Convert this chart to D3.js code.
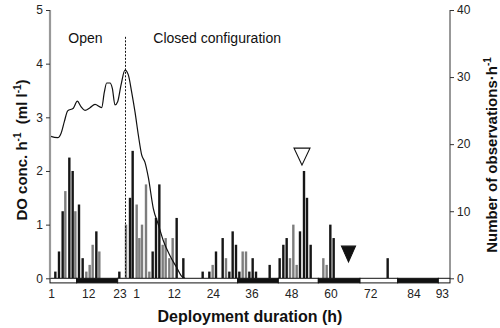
<!DOCTYPE html>
<html><head><meta charset="utf-8">
<script src="https://cdn.jsdelivr.net/npm/d3@7"></script>
<style>
html,body{margin:0;padding:0;background:#fff;}
svg{display:block;font-family:"Liberation Sans",Arial,Helvetica,sans-serif;}
</style>
</head><body>
<svg id="c" width="500" height="328"></svg>
<script>
// ---- data (x in elapsed deployment hours) ----
const lineHours = [0,2.3,3.3,4.3,5.3,7.0,8.2,9.3,10.5,12,13.5,15.5,16.3,17,18,18.7,19.5,20.3,21.3,22.5,23.5,24.5,25.5,26.5,27.5,28.5,29.5,31,32.5,34,36,38,39.6,40.5];
const doValues  = [2.65,2.62,2.70,2.92,3.12,3.17,3.30,3.20,3.13,3.18,3.24,3.18,3.47,3.64,3.64,3.54,3.23,3.29,3.60,3.88,3.79,3.47,3.10,2.67,2.30,2.16,1.88,1.30,1.0,0.70,0.42,0.20,0.03,0];

const blackHours  = [1.6,2.7,3.8,5.8,6.8,8.7,9.8,13.9,20.8,24,24.8,30.8,31.8,32.8,38,40,45.8,47.8,49.8,51.8,53.8,54.8,55.8,56.8,59.8,60.8,61.8,65.9,68.9,70,71,75,76.2,77.1,78.2,84.1,85.1,101.3];
const blackCounts = [1,4,10,18,16,11,3,7,1,12,19,4,9,14,9,3,1,1,4,6,1,7,5,1,1,3,1,2,3,5,6,7,16,12,5,8,6,3];
const grayHours   = [4.6,7.6,10.9,11.9,12.8,14.8,22.8,26,26.8,27.6,28.8,29.8,33.8,34.7,35.8,36.8,48.8,52.8,57.8,58.8,72,73,74,82,83];
const grayCounts  = [13,10,1,2,5,4,8,11,6,8,14,1,5,6,3,6,2,3,4,4,3,8,2,3,2];

const periodStarts = [0,8,20.3,56.3,68.5,80.5,93,104.3,116.5];
const periodEnds   = [8,20.3,56.3,68.5,80.5,93,104.3,116.5,120];
const periodDark   = [false,true,false,true,false,true,false,true,false];

const xTickHours  = [0.5,11.6,21,26,37.3,49,60.6,72.5,84.3,96.2,109.2,117.7];
const xTickLabels = ["1","12","23","1","12","24","36","48","60","72","84","93"];
const leftTicks  = [0,1,2,3,4,5];
const rightTicks = [0,10,20,30,40];

const switchHour = 22.65;
const markerHours  = [75.6,89.55];
const markerDO     = [2.32,0.50];
const markerFilled = [false,true];
const phaseLabels     = ["Open","Closed configuration"];
const phaseLabelHours = [5.5,31];

// ---- scales ----
const svg = d3.select("#c");
const x  = d3.scaleLinear().domain([0,120]).range([50,450]);
const yL = d3.scaleLinear().domain([0,5]).range([278.3,10]);
const yR = d3.scaleLinear().domain([0,40]).range([278.3,10]);
const bw = x(0.72)-x(0);

// bars
const bars = blackHours.map((h,i)=>({h,c:blackCounts[i],k:"#161616"}))
  .concat(grayHours.map((h,i)=>({h,c:grayCounts[i],k:"#7d7d7d"})));
svg.append("g").selectAll("rect").data(bars).join("rect")
  .attr("x",d=>x(d.h)-bw/2).attr("width",bw)
  .attr("y",d=>yR(d.c)).attr("height",d=>yR(0)-yR(d.c))
  .attr("fill",d=>d.k);

// DO line
const pts = lineHours.map((h,i)=>[h,doValues[i]]);
svg.append("path").datum(pts)
  .attr("d",d3.line().x(d=>x(d[0])).y(d=>yL(d[1])).curve(d3.curveMonotoneX))
  .attr("fill","none").attr("stroke","#111").attr("stroke-width",1.2);

// dashed switch line
svg.append("line").attr("x1",x(switchHour)).attr("x2",x(switchHour))
  .attr("y1",yL(4.5)).attr("y2",yL(0))
  .attr("stroke","#111").attr("stroke-width",1).attr("stroke-dasharray","2,1.5");

// phase labels
svg.append("g").selectAll("text").data(phaseLabels).join("text")
  .attr("x",(d,i)=>x(phaseLabelHours[i])).attr("y",yL(4.38))
  .attr("font-size",14).attr("fill","#111").text(d=>d);

// markers
svg.append("g").selectAll("path").data(markerHours).join("path")
  .attr("d",(d,i)=>d3.symbol(d3.symbolTriangle, markerFilled[i]?85:111)())
  .attr("transform",(d,i)=>`translate(${x(d)},${yL(markerDO[i])}) rotate(180) scale(1,${markerFilled[i]?1.3:1.22})`)
  .attr("fill",(d,i)=>markerFilled[i]?"#111":"#fff")
  .attr("stroke","#111").attr("stroke-width",1);

// day/night band
const band = periodStarts.map((s,i)=>({s,e:periodEnds[i],dark:periodDark[i]}));
svg.append("g").selectAll("rect").data(band).join("rect")
  .attr("x",d=>x(d.s)).attr("width",d=>x(d.e)-x(d.s))
  .attr("y",yL(0)).attr("height",4.6)
  .attr("fill",d=>d.dark?"#111":"#fff")
  .attr("stroke","#111").attr("stroke-width",1);

// axes
const gl = svg.append("g").attr("transform",`translate(${x(0)},0)`)
  .call(d3.axisLeft(yL).tickValues(leftTicks).tickSize(4).tickPadding(3).tickFormat(d3.format("d")));
gl.select(".domain").attr("stroke","#999").attr("stroke-width",2.2).attr("d",`M0,${yL(5)}V${yL(0)}`);
gl.selectAll(".tick line").attr("stroke","#333");
gl.selectAll(".tick text").attr("font-size",12).attr("font-family","inherit").attr("fill","#222");

const gr = svg.append("g").attr("transform",`translate(${x(120)},0)`)
  .call(d3.axisRight(yR).tickValues(rightTicks).tickSize(4).tickPadding(3).tickFormat(d3.format("d")));
gr.select(".domain").attr("stroke","#333").attr("stroke-width",1).attr("d",`M0,${yR(40)}V${yR(0)}`);
gr.selectAll(".tick line").attr("stroke","#333");
gr.selectAll(".tick text").attr("font-size",12).attr("font-family","inherit").attr("fill","#222");

// x tick labels
svg.append("g").selectAll("text").data(xTickHours).join("text")
  .attr("x",d=>x(d)).attr("y",yL(0)+20).attr("text-anchor","middle")
  .attr("font-size",12).attr("fill","#222").text((d,i)=>xTickLabels[i]);

// axis titles
svg.append("text").attr("x",250).attr("y",322).attr("text-anchor","middle")
  .attr("font-size",16).attr("font-weight","bold").attr("fill","#111")
  .text("Deployment duration (h)");

const lt = svg.append("text").attr("transform","translate(27,150) rotate(-90)")
  .attr("text-anchor","middle").attr("font-size",15).attr("font-weight","bold").attr("fill","#111");
lt.append("tspan").text("DO conc. h");
lt.append("tspan").attr("font-size",10).attr("dy",-6).text("-1");
lt.append("tspan").attr("dy",6).text("\u00a0\u00a0(ml l");
lt.append("tspan").attr("font-size",10).attr("dy",-6).text("-1");
lt.append("tspan").attr("dy",6).text(")");

const rt = svg.append("text").attr("transform","translate(497,155) rotate(-90)")
  .attr("text-anchor","middle").attr("font-size",15).attr("font-weight","bold").attr("fill","#111");
rt.append("tspan").text("Number of observations\u00b7h");
rt.append("tspan").attr("font-size",10).attr("dy",-6).text("-1");
</script>
</body></html>
